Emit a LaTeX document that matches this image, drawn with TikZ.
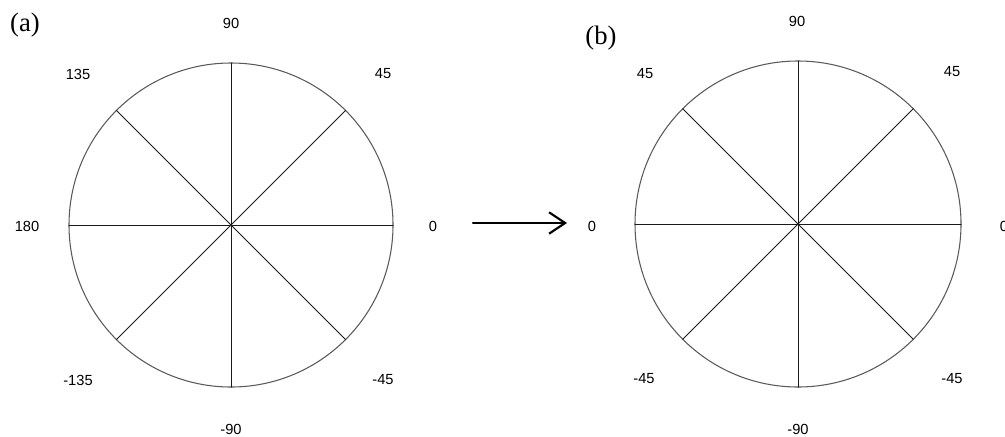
\documentclass[tikz,border=0pt]{standalone}
\usepackage{fontspec}
\setmainfont{Liberation Serif}
\setsansfont{Liberation Sans}
\usetikzlibrary{arrows.meta}
\definecolor{rim}{HTML}{5A5A5A}
\definecolor{spoke}{HTML}{1A1A1A}

\begin{document}
\begin{tikzpicture}[x=0.75pt,y=-0.75pt,>=Latex,line cap=round,
    ang/.style={font=\sffamily\fontsize{11}{13}\selectfont,inner sep=0pt},
    tag/.style={font=\rmfamily\fontsize{20}{22}\selectfont,inner sep=0pt}]
        \useasboundingbox (0,0) rectangle (1005,436);
        % (a) original angles
        \begin{scope}[shift={(231,225)}]
          \draw[rim,line width=0.8pt] (0,0) circle (162);
          \foreach \t in {0,45,...,135}
            \draw[spoke,line width=0.75pt] (\t:162) -- (\t+180:162);
          \node[ang] (a90)  at (0,-202)   {90};
          \node[ang] (a45)  at (152,-151) {45};
          \node[ang] (a135) at (-153,-151) {135};
          \node[ang] (a180) at (-204,1)   {180};
          \node[ang] (a0)   at (202,1)    {0};
          \node[ang] (am135) at (-153,155) {-135};
          \node[ang] (am45) at (152,155)  {-45};
          \node[ang] (am90) at (0,204)    {-90};
          \node[tag] (ta)   at (-206,-200) {(a)};
        \end{scope}
        % (b) folded angles
        \begin{scope}[shift={(798,224)}]
          \draw[rim,line width=0.8pt] (0,0) circle (163);
          \foreach \t in {0,45,...,135}
            \draw[spoke,line width=0.75pt] (\t:163) -- (\t+180:163);
          \node[ang] (b90)  at (-1,-203)  {90};
          \node[ang] (b45r) at (154,-152) {45};
          \node[ang] (b45l) at (-153,-150) {45};
          \node[ang] (b0l)  at (-206,2)   {0};
          \node[ang] (b0r)  at (206,2)    {0};
          \node[ang] (bm45l) at (-154,155) {-45};
          \node[ang] (bm45r) at (154,155) {-45};
          \node[ang] (bm90) at (0,205)    {-90};
          \node[tag] (tb)   at (-197,-186) {(b)};
        \end{scope}
        \coordinate (from) at (473,223);
        \coordinate (to)   at (567,223);
        \draw[-{Straight Barb[length=12pt,width=16pt]},line width=1.6pt] (from) -- (to);
\end{tikzpicture}
\end{document}
